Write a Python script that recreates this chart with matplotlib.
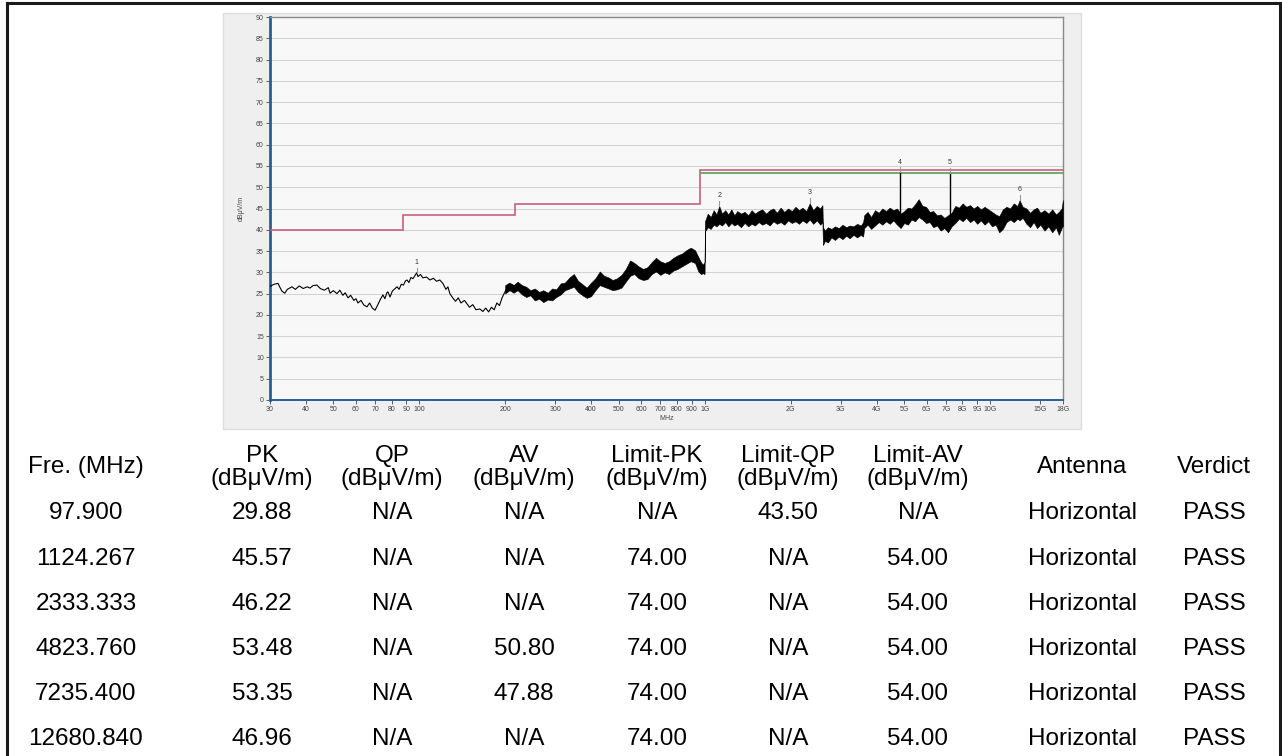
import matplotlib
matplotlib.use('Agg')
import matplotlib.pyplot as plt
from matplotlib.lines import Line2D
from matplotlib.patches import Rectangle

plt.rcParams['font.family'] = ['Liberation Sans', 'DejaVu Sans']

# ---- measured trace, 30 MHz .. 220 MHz (thin part) ----
trace_freq = [30, 31, 32, 33, 33.8, 34.5, 35.8, 36.8, 38, 39.2, 40.5, 41.4, 42.5, 43.8, 45,
              46.5, 48, 48.7, 50, 51.5, 52.7, 54, 55, 56.3, 57.5, 59, 60, 61, 62.5, 64,
              65.6, 67, 68.5, 70, 71.5, 73, 74.6, 75.8, 77, 77.7, 79, 80.5, 82, 83.6, 85,
              86.5, 88, 89.5, 90.6, 92, 93.5, 95, 96.5, 97.9, 99, 101, 103, 106, 109, 112,
              115, 118, 121, 124, 126, 128, 131, 134, 137, 140, 144, 147, 150, 154, 158,
              163, 167, 171, 175, 179, 183, 187, 191, 195, 199, 203, 208, 213, 218]
trace_level = [26.7, 27.2, 27.4, 25.6, 25.1, 26.0, 26.6, 26.0, 26.8, 26.2, 26.6, 26.3, 26.9, 27.0, 26.2,
               25.8, 26.4, 25.1, 25.7, 25.0, 25.8, 24.6, 25.2, 24.0, 24.6, 23.4, 23.8, 22.8, 23.4, 22.3,
               21.9, 22.8, 21.6, 21.1, 22.3, 23.6, 24.7, 23.8, 25.2, 25.4, 24.2, 25.6, 26.1, 26.6, 26.0,
               27.2, 27.0, 28.0, 28.2, 27.6, 28.8, 28.5, 29.2, 29.88, 29.0, 29.5, 28.7, 28.9, 28.2, 28.6,
               27.9, 28.2, 27.4, 26.0, 26.6, 25.0, 24.0, 23.2, 24.0, 22.8, 23.4, 22.6, 21.8, 22.4, 21.2,
               21.4, 20.8, 21.6, 20.7, 21.8, 21.2, 22.8, 22.2, 24.0, 25.2, 26.4, 26.0, 27.0, 26.4]

# ---- noisy band, 200 MHz .. 18 GHz (lower / upper envelope) ----
band_freq = [200, 207, 214, 221, 229, 237, 245, 254, 263, 272, 282, 292, 302, 313, 324, 336, 348,
             360, 373, 386, 400, 414, 429, 444, 460, 476, 493, 511, 529, 548, 567, 587, 608, 630,
             652, 675, 699, 724, 750, 776, 804, 832, 862, 893, 925, 950, 970, 985, 999,
             1002, 1025, 1050, 1075, 1100, 1124, 1150, 1180, 1210, 1240, 1270, 1300, 1340, 1380,
             1420, 1460, 1500, 1545, 1590, 1640, 1690, 1740, 1790, 1845, 1900, 1960, 2020, 2080,
             2140, 2200, 2270, 2333, 2400, 2470, 2540, 2585, 2595, 2640, 2700, 2780, 2860, 2950,
             3040, 3130, 3220, 3320, 3420, 3520, 3590, 3620, 3720, 3830, 3950, 4070, 4190, 4320,
             4450, 4580, 4720, 4860, 5000, 5150, 5300, 5460, 5620, 5790, 5960, 6140, 6320, 6510,
             6710, 6910, 7120, 7330, 7550, 7780, 8010, 8250, 8500, 8750, 9010, 9280, 9560, 9850,
             10150, 10450, 10760, 11080, 11410, 11750, 12100, 12460, 12680, 13000, 13400, 13800,
             14200, 14600, 15000, 15500, 16000, 16500, 17000, 17400, 17800, 18000]
band_lo = [25.0, 25.8, 25.2, 25.8, 24.8, 24.2, 24.6, 23.4, 23.8, 23.0, 23.6, 23.4, 24.2, 24.8, 25.8,
           26.2, 26.6, 25.4, 24.6, 24.0, 24.4, 25.8, 27.0, 26.6, 26.2, 25.8, 26.0, 26.4, 27.8, 29.2,
           29.6, 28.6, 28.2, 28.4, 29.6, 30.2, 29.4, 30.0, 29.6, 30.4, 30.8, 31.4, 32.0, 32.6, 32.2,
           30.2, 29.6, 29.8, 29.6,
           39.6, 40.6, 40.2, 41.2, 40.8, 41.4, 41.0, 41.8, 40.8, 41.6, 41.0, 41.4, 40.6, 41.6,
           40.8, 41.4, 41.0, 41.8, 41.2, 41.6, 41.0, 42.0, 41.4, 41.8, 41.2, 42.2, 41.6, 42.0,
           41.4, 42.2, 41.6, 42.4, 41.4, 42.2, 41.2, 41.8, 36.4, 37.4, 37.0, 38.2, 37.6, 38.4,
           37.8, 38.6, 38.0, 38.8, 38.2, 38.8, 38.4, 40.4, 41.2, 40.2, 41.0, 41.8, 41.2, 42.0,
           41.4, 42.2, 41.2, 40.4, 41.6, 41.2, 42.4, 42.0, 43.0, 42.4, 41.6, 41.8, 40.6, 41.0,
           39.8, 40.4, 39.4, 40.8, 41.6, 42.6, 42.0, 42.8, 41.8, 42.4, 41.4, 42.2, 41.2, 42.0,
           40.8, 41.2, 39.4, 40.2, 41.8, 42.4, 41.8, 42.6, 42.2, 42.8, 41.4, 40.6,
           41.8, 40.4, 41.2, 39.8, 40.8, 39.4, 40.6, 38.8, 40.4, 41.0]
band_hi = [27.0, 27.6, 27.0, 27.8, 27.0, 26.6, 25.8, 26.2, 25.4, 25.8, 25.2, 26.2, 26.0, 27.4, 27.6,
           28.8, 29.6, 28.0, 27.2, 26.4, 27.6, 28.6, 30.2, 29.2, 28.8, 28.2, 28.6, 29.4, 30.8, 32.8,
           32.2, 31.4, 30.8, 31.2, 32.4, 33.4, 32.6, 32.2, 32.6, 33.4, 34.0, 34.4, 35.2, 35.8, 35.2,
           33.6, 32.4, 31.8, 32.4,
           42.0, 43.8, 43.0, 44.6, 43.6, 45.57, 43.8, 44.6, 43.6, 44.8, 43.4, 44.4, 43.8, 44.2,
           43.4, 44.6, 43.8, 44.4, 44.8, 43.8, 44.6, 45.0, 44.0, 45.2, 44.2, 45.0, 44.4, 45.4,
           44.6, 45.2, 44.4, 46.22, 44.6, 45.6, 45.0, 45.8, 40.6, 39.8, 40.6, 40.2, 40.8, 40.4,
           41.2, 40.6, 41.0, 40.8, 41.4, 41.0, 41.8, 43.4, 44.2, 43.0, 44.6, 44.0, 45.0, 44.4,
           45.2, 44.6, 45.0, 43.8, 44.4, 45.2, 45.0, 46.0, 47.2, 45.6, 45.4, 44.2, 44.4, 43.4,
           43.6, 42.8, 43.4, 44.0, 45.6, 45.2, 46.2, 45.4, 45.8, 45.0, 45.6, 44.8, 45.4, 44.8,
           44.2, 43.6, 43.2, 44.8, 45.4, 45.0, 46.2, 45.6, 46.96, 45.4, 45.0, 44.0,
           44.8, 45.2, 44.0, 44.6, 43.8, 44.8, 43.6, 44.2, 45.0, 47.0]

# ---- limit lines ----
limit_edges = [30, 88, 216, 960, 18000]
limit_values = [40, 43.5, 46, 54]
av_limit_edges = [960, 18000]
av_limit_values = [54]

# ---- result table ----
col_heads = [('Fre. (MHz)', ''), ('PK', '(dBμV/m)'), ('QP', '(dBμV/m)'), ('AV', '(dBμV/m)'),
             ('Limit-PK', '(dBμV/m)'), ('Limit-QP', '(dBμV/m)'), ('Limit-AV', '(dBμV/m)'),
             ('Antenna', ''), ('Verdict', '')]
fre = ['97.900', '1124.267', '2333.333', '4823.760', '7235.400', '12680.840']
pk = ['29.88', '45.57', '46.22', '53.48', '53.35', '46.96']
qp = ['N/A', 'N/A', 'N/A', 'N/A', 'N/A', 'N/A']
av = ['N/A', 'N/A', 'N/A', '50.80', '47.88', 'N/A']
lim_pk = ['N/A', '74.00', '74.00', '74.00', '74.00', '74.00']
lim_qp = ['43.50', 'N/A', 'N/A', 'N/A', 'N/A', 'N/A']
lim_av = ['N/A', '54.00', '54.00', '54.00', '54.00', '54.00']
antenna = ['Horizontal'] * 6
verdict = ['PASS'] * 6

W, H = 1282, 756
fig = plt.figure(figsize=(W / 100, H / 100), dpi=100)
fig.patch.set_facecolor('white')

def fx(px):
    return px / W

def fy(py):
    return 1 - py / H

# grey panel of the analyser screenshot
fig.patches.append(Rectangle((fx(223), fy(429)), fx(1081 - 223), (429 - 13) / H,
                             transform=fig.transFigure, facecolor='#efefef',
                             edgecolor='#dddddd', lw=1, zorder=-1))

ax = fig.add_axes([fx(270), fy(400), fx(1063 - 270), (400 - 17) / H])
ax.set_zorder(2)
ax.set_facecolor('#f8f8f8')
ax.set_xscale('log')
ax.set_xlim(30, 18000)
ax.set_ylim(0, 90)

ax.set_yticks(range(0, 91, 5))
ax.grid(axis='y', color='#d4d4d4', lw=0.8)
ax.grid(axis='x', visible=False)
ax.set_axisbelow(True)

xt = [30, 40, 50, 60, 70, 80, 90, 100, 200, 300, 400, 500, 600, 700, 800, 900, 1000,
      2000, 3000, 4000, 5000, 6000, 7000, 8000, 9000, 10000, 15000, 18000]
xl = ['30', '40', '50', '60', '70', '80', '90', '100', '200', '300', '400', '500', '600',
      '700', '800', '900', '1G', '2G', '3G', '4G', '5G', '6G', '7G', '8G', '9G', '10G',
      '15G', '18G']
ax.set_xticks(xt)
ax.set_xticklabels(xl)
ax.xaxis.set_minor_locator(matplotlib.ticker.NullLocator())
ax.tick_params(labelsize=5, colors='#444444', length=3, width=0.6, pad=1.5)
ax.set_xlabel('MHz', fontsize=5, color='#444444', labelpad=1.5)
ax.set_ylabel('dBμV/m', fontsize=5, color='#444444', labelpad=8)

for s in ['top', 'right']:
    ax.spines[s].set_color('#8a8a8a')
    ax.spines[s].set_linewidth(1.0)
ax.spines['left'].set_color('#2c5aa0')
ax.spines['left'].set_linewidth(2.0)
ax.spines['bottom'].set_color('#2c5aa0')
ax.spines['bottom'].set_linewidth(1.4)

# limits
ax.stairs(limit_values, limit_edges, baseline=None, color='#c8607a', lw=1.2, zorder=3)
ax.stairs([v - 0.6 for v in av_limit_values], av_limit_edges, baseline=None,
          color='#5a9e5a', lw=1.2, zorder=3)

# trace
ax.plot(trace_freq, trace_level, color='black', lw=0.8, zorder=4)
ax.fill_between(band_freq, band_lo, band_hi, color='black', lw=0.4, edgecolor='black', zorder=4)

# narrow peaks at marker 4 and 5
spike_freq = [4823.76, 7235.4]
spike_base = [42.0, 41.0]
spike_top = [53.48, 53.35]
ax.vlines(spike_freq, spike_base, spike_top, color='black', lw=1.0, zorder=4)

# markers
for i, (f, v) in enumerate(zip(fre, pk)):
    f, v = float(f), float(v)
    ax.plot([f, f], [v, v + 1.2], color='#999999', lw=0.8, zorder=5)
    ax.text(f, v + 1.6, str(i + 1), fontsize=5, color='#333333', ha='center', va='bottom', zorder=6)

# table
col_x = [86, 262, 392, 524, 657, 788, 918, 1082, 1214]
for x, (h1, h2) in zip(col_x, col_heads):
    if h2:
        fig.text(fx(x), fy(456), h1, fontsize=17.5, ha='center', va='center')
        fig.text(fx(x), fy(479), h2, fontsize=17.5, ha='center', va='center')
    else:
        fig.text(fx(x), fy(467), h1, fontsize=17.5, ha='center', va='center')

cols = [fre, pk, qp, av, lim_pk, lim_qp, lim_av, antenna, verdict]
row_y = [513, 559, 604, 649, 694, 739]
for x, col in zip(col_x, cols):
    for y, val in zip(row_y, col):
        fig.text(fx(x), fy(y), val, fontsize=17.5, ha='center', va='center')

# outer frame
frame = dict(transform=fig.transFigure, color='#1a1a1a', lw=2.2)
fig.lines.append(Line2D([fx(7), fx(7)], [0, fy(3)], **frame))
fig.lines.append(Line2D([fx(7), fx(1280)], [fy(3), fy(3)], **frame))
fig.lines.append(Line2D([fx(1280), fx(1280)], [fy(3), 0], **frame))

fig.savefig('out.png', dpi=100)
